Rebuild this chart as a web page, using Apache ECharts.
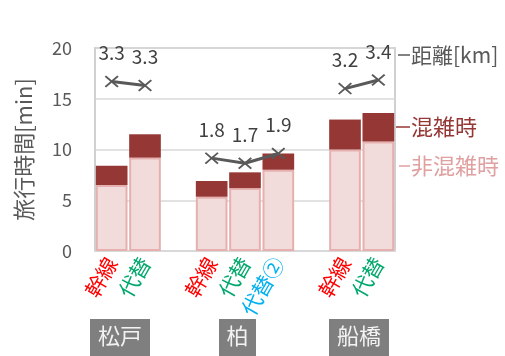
<!DOCTYPE html>
<html><head><meta charset="utf-8">
<script src="https://cdn.jsdelivr.net/npm/echarts@6/dist/echarts.min.js"></script>
<style>html,body{margin:0;padding:0;background:#fff}#c{width:505px;height:356px}</style>
</head><body><div id="c"></div>
<script>
const categories = ['幹線','代替','','幹線','代替','代替②','','幹線','代替'];
const catColors = ['#ff0000','#00a86b','','#ff0000','#00a86b','#00b0f0','','#ff0000','#00a86b'];
const groups = ['松戸','柏','船橋'];
const offPeak = [6.5, 9.2, null, 5.35, 6.2, 8.0, null, 10.0, 10.8];
const congestionExtra = [1.9, 2.3, null, 1.55, 1.55, 1.6, null, 2.95, 2.8];
const distance = [3.34, 3.26, null, 1.83, 1.73, 1.92, null, 3.2, 3.37];
const yTicks = [0,5,10,15,20];

const FONT = "'Noto Sans CJK JP','Noto Sans',sans-serif";
const chart = echarts.init(document.getElementById('c'));
const xPath = 'path://M0,1L1,0L5,4L9,0L10,1L6,5L10,9L9,10L5,6L1,10L0,9L4,5Z';

const groupBoxes = [
  {x:90, w:60, t:groups[0]},
  {x:219, w:37, t:groups[1]},
  {x:329, w:60, t:groups[2]}
];
const graphics = [];
groupBoxes.forEach(g=>{
  graphics.push({type:'rect', shape:{x:g.x,y:319,width:g.w,height:37}, style:{fill:'#7f7f7f'}});
  graphics.push({type:'text', x:g.x+g.w/2, y:336, style:{text:g.t, fill:'#f2f2f2', font:'22px '+FONT, textAlign:'center', textVerticalAlign:'middle'}});
});
const sideLabels = [
  {x1:398, y:55, t:'距離[km]', c:'#595959', f:21},
  {x1:396, y:127, t:'混雑時', c:'#953735', f:22},
  {x1:399, y:166, t:'非混雑時', c:'#e0a0a0', f:22}
];
sideLabels.forEach(s=>{
  graphics.push({type:'line', shape:{x1:s.x1,y1:s.y,x2:410,y2:s.y}, style:{stroke:s.c, lineWidth:1.5}});
  graphics.push({type:'text', x:411, y:s.y, style:{text:s.t, fill:s.c, font:s.f+'px '+FONT, textVerticalAlign:'middle'}});
});

chart.setOption({
  animation:false,
  textStyle:{fontFamily:FONT},
  grid:{left:95, right:110, top:48, bottom:105, show:true, borderColor:'#d0d0d0', borderWidth:2},
  xAxis:{
    type:'category',
    data:categories.map((c,i)=>({value:c, textStyle:{color:catColors[i]||'#000'}})),
    axisLine:{lineStyle:{color:'#d9d9d9', width:2}},
    axisTick:{show:false},
    axisLabel:{rotate:60, fontSize:21, margin:8, interval:0, fontFamily:FONT}
  },
  yAxis:[{
    type:'value', min:0, max:20, interval:5,
    name:'旅行時間[min]', nameLocation:'middle', nameGap:60, nameRotate:90,
    nameTextStyle:{fontSize:22, color:'#595959', fontFamily:FONT},
    axisLine:{show:true, lineStyle:{color:'#d0d0d0', width:2}},
    axisTick:{show:false},
    axisLabel:{fontSize:18, color:'#595959', margin:23, formatter:v=>yTicks.includes(v)?String(v):''},
    splitLine:{lineStyle:{color:'#d9d9d9', width:1.5}}
  },{
    type:'value', min:0, max:4, show:false, splitLine:{show:false}
  }],
  series:[
    {name:'非混雑時', type:'bar', stack:'t', data:offPeak, barCategoryGap:'5%',
     itemStyle:{color:'#f2dcdb', borderColor:'#e6b0b0', borderWidth:2}},
    {name:'混雑時', type:'bar', stack:'t', data:congestionExtra, barCategoryGap:'5%',
     itemStyle:{color:'#953735'}},
    {name:'距離[km]', type:'line', yAxisIndex:1, data:distance, connectNulls:false,
     symbol:xPath, symbolSize:[14,12], showAllSymbol:true,
     lineStyle:{color:'#595959', width:3}, itemStyle:{color:'#595959'},
     label:{show:true, position:'top', distance:13, fontSize:19, color:'#404040', fontFamily:FONT,
       formatter:p=>p.value==null?'':p.value.toFixed(1)}}
  ],
  graphic:graphics
});
</script></body></html>
